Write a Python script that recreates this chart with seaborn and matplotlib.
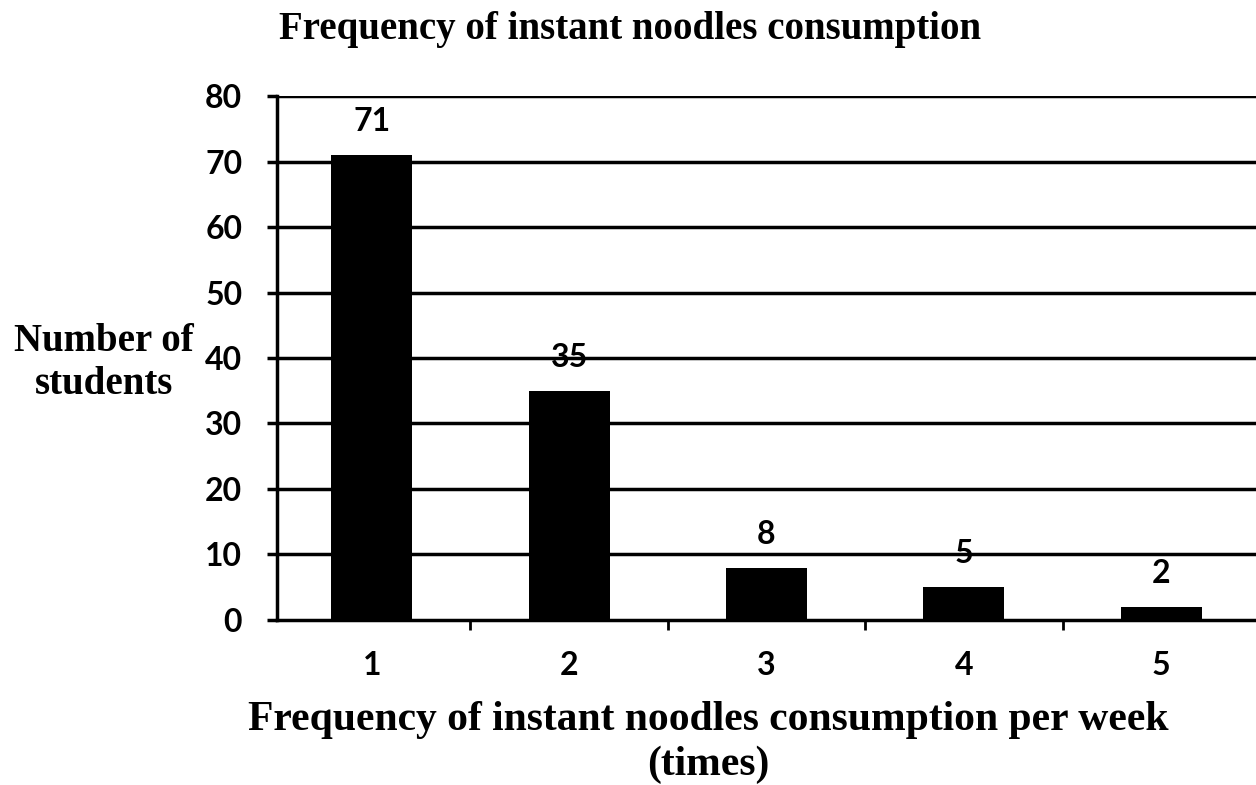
import pandas as pd
import numpy as np
import seaborn as sns
import matplotlib.pyplot as plt

# data
frequency = ['1', '2', '3', '4', '5']
students = [71, 35, 8, 5, 2]

df = pd.DataFrame({'frequency': frequency, 'students': students})

sns.set_theme(style='white')
plt.rcParams['font.family'] = ['Lato', 'DejaVu Sans']
plt.rcParams['text.color'] = 'black'

fig = plt.figure(figsize=(12.56, 7.85), dpi=100)
ax = fig.add_axes([0.2205, 0.2102, 0.7795, 0.6675])

sns.barplot(x='frequency', y='students', data=df, color='black',
            width=0.41, linewidth=0, ax=ax, zorder=3)

# horizontal gridlines
ax.set_ylim(0, 80)
ax.set_yticks(range(0, 81, 10))
for yv in range(10, 81, 10):
    ax.axhline(yv, color='black', lw=2.5, zorder=1)

ax.set_xlim(-0.48, 4.48)

# spines
for s in ['top', 'right']:
    ax.spines[s].set_visible(False)
for s in ['left', 'bottom']:
    ax.spines[s].set_color('black')
    ax.spines[s].set_linewidth(2.5)

# tick marks between categories
ax.set_xticks([0.5, 1.5, 2.5, 3.5], minor=True)
ax.tick_params(axis='x', which='major', length=0, pad=22)
ax.tick_params(axis='x', which='minor', length=7, width=2, color='black', direction='out', bottom=True)
ax.tick_params(axis='y', length=7, width=2.5, color='black', direction='out', left=True, pad=18)

for lab in ax.get_xticklabels() + ax.get_yticklabels():
    lab.set_fontweight('bold')
    lab.set_fontsize(23)
    lab.set_color('black')

# value labels
for i, v in enumerate(students):
    ax.annotate(str(v), (i, v), xytext=(0, 24), textcoords='offset points',
                ha='center', va='center', fontsize=23, fontweight='bold', color='black')

ax.set_xlabel('')
ax.set_ylabel('')

serif = ['Liberation Serif', 'DejaVu Serif']
fig.text(0.502, 0.962, 'Frequency of instant noodles consumption', ha='center', va='center',
         fontsize=28, fontweight='bold', family=serif)
fig.text(0.083, 0.538, 'Number of\nstudents', ha='center', va='center',
         fontsize=28, fontweight='bold', family=serif, linespacing=1.22)
fig.text(0.564, 0.054, 'Frequency of instant noodles consumption per week\n(times)',
         ha='center', va='center', fontsize=30, fontweight='bold', family=serif, linespacing=1.2)

plt.savefig('out.png', dpi=100)
